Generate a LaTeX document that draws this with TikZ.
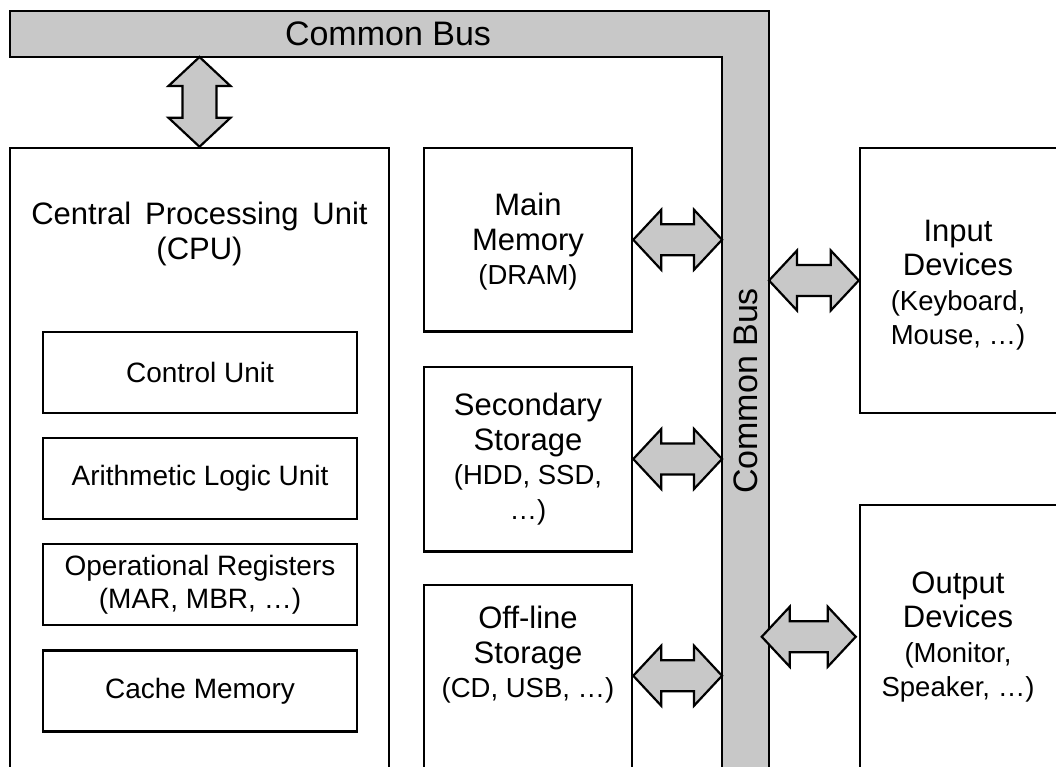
\documentclass[tikz,border=0pt]{standalone}
\usepackage{fontspec}
\setmainfont{Liberation Sans}
\usetikzlibrary{calc}
\definecolor{busgray}{RGB}{200,200,200}
\newcommand\parenfont{\fontsize{27.5}{34.5}\selectfont}
\newcommand\myharrow[2]{\draw[arr] let \p1=(#1),\p2=(#2) in
 (\x1,\y1) -- (\x1+28pt,\y1+30pt) -- (\x1+28pt,\y1+15.5pt) -- (\x2-28pt,\y1+15.5pt) -- (\x2-28pt,\y1+30pt) -- (\x2,\y1)
 -- (\x2-28pt,\y1-30pt) -- (\x2-28pt,\y1-15.5pt) -- (\x1+28pt,\y1-15.5pt) -- (\x1+28pt,\y1-30pt) -- cycle;}
\newcommand\myvarrow[2]{\draw[arr] let \p1=(#1),\p2=(#2) in
 (\x1,\y1) -- (\x1+31pt,\y1-29pt) -- (\x1+17pt,\y1-29pt) -- (\x1+17pt,\y2+29pt) -- (\x1+31pt,\y2+29pt) -- (\x1,\y2)
 -- (\x1-31pt,\y2+29pt) -- (\x1-17pt,\y2+29pt) -- (\x1-17pt,\y1-29pt) -- (\x1-31pt,\y1-29pt) -- cycle;}
\begin{document}
\begin{tikzpicture}[x=1pt,y=-1pt,
  box/.style={draw=black,line width=2.5pt,fill=white,inner sep=0pt,align=center,font=\fontsize{31}{34.5}\selectfont},
  inbox/.style={draw=black,line width=2.5pt,fill=white,inner sep=0pt,align=center,font=\fontsize{28}{33}\selectfont,minimum width=314pt,minimum height=81pt},
  lbl/.style={align=center,font=\fontsize{31}{34.5}\selectfont},
  buslbl/.style={font=\fontsize{34}{40}\selectfont},
  bus/.style={draw=black,line width=2.5pt,fill=busgray},
  arr/.style={draw=black,line width=2.2pt,fill=busgray,line join=miter}]
\clip (0,0) rectangle (1056,767);
\fill[white] (0,0) rectangle (1056,767);
% common bus
\draw[bus] (10,11) -- (769,11) -- (769,800) -- (722,800) -- (722,57) -- (10,57) -- cycle;
\node[buslbl] (bush) at (388,34) {Common Bus};
\node[buslbl,rotate=90] (busv) at (745.5,391) {Common Bus};
\coordinate (busL) at (722,0);
\coordinate (busR) at (769,0);
% CPU
\node[box,minimum width=379pt,minimum height=652pt] (cpu) at (199.5,474) {};
\node[lbl] (cputitle) at (199.5,234) {Central\hspace{0.45em}Processing\hspace{0.45em}Unit\\(CPU)};
\node[inbox] (cu) at (200,372.5) {Control Unit};
\node[inbox] (alu) at (200,478.5) {Arithmetic Logic Unit};
\node[inbox] (reg) at (200,584.5) {Operational Registers\\(MAR, MBR, …)};
\node[inbox] (cache) at (200,691) {Cache Memory};
% memories
\node[box,minimum width=208pt,minimum height=183.5pt] (mm) at (528,239.75) {};
\node[lbl] (mmt) at (528,242) {Main\\Memory\\\parenfont (DRAM)};
\node[box,minimum width=208pt,minimum height=184.5pt] (sec) at (528,459) {Secondary\\Storage\\\parenfont (HDD, SSD,\\\parenfont …)};
\node[box,minimum width=208pt,minimum height=215pt] (off) at (528,692.5) {};
\node[lbl] (offt) at (528,655) {Off-line\\Storage\\\parenfont (CD, USB, …)};
% devices
\node[box,minimum width=199pt,minimum height=265pt] (in) at (959.5,280.5) {};
\node[lbl] (int) at (958,285) {Input\\Devices\\\parenfont (Keyboard,\\\parenfont Mouse, …)};
\node[box,minimum width=199pt,minimum height=295pt] (out) at (959.5,652.5) {};
\node[lbl] (outt) at (958,637) {Output\\Devices\\\parenfont (Monitor,\\\parenfont Speaker, …)};
% arrows
\coordinate (busB) at (cpu.north |- 0,57);
\myvarrow{busB}{cpu.north}
\myharrow{mm.east}{mm.east -| busL}
\myharrow{sec.east}{sec.east -| busL}
\coordinate (offA) at ($(off.north east)+(0,92)$);
\myharrow{offA}{offA -| busL}
\myharrow{in.west -| busR}{in.west}
\coordinate (outR) at ($(out.north west)+(-3,133)$);
\coordinate (outL) at ($(outR)+(-94,0)$);
\myharrow{outL}{outR}
\end{tikzpicture}
\end{document}
